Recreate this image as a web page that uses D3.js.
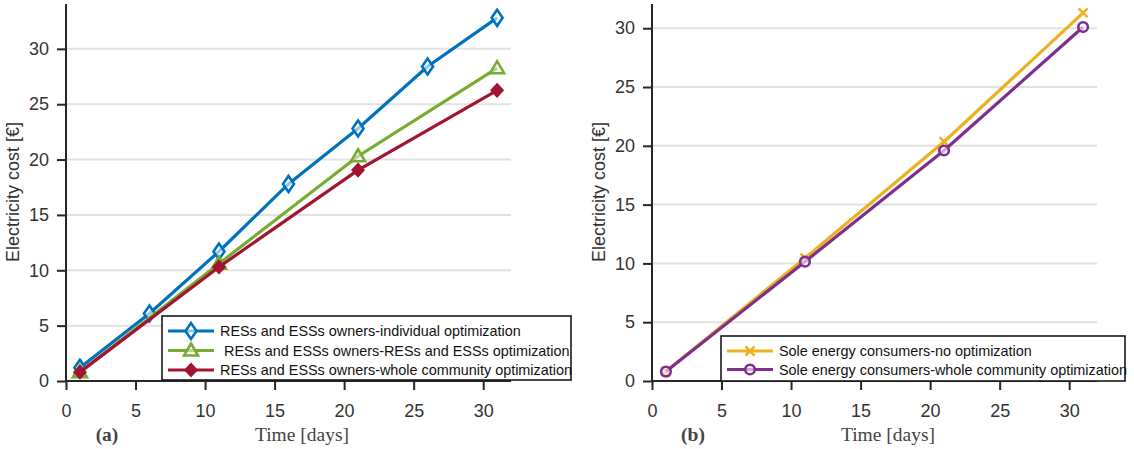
<!DOCTYPE html>
<html><head><meta charset="utf-8">
<script src="https://cdn.jsdelivr.net/npm/d3@7"></script>
<style>body{margin:0;background:#fff}svg{display:block}</style>
</head><body>
<svg id="c" width="1134" height="449"></svg>
<script>
// ---- data ----
const daysA = [1, 6, 11, 16, 21, 26, 31];
const daysA4 = [1, 11, 21, 31];
const blueIndividual = [1.2, 6.1, 11.7, 17.8, 22.8, 28.4, 32.8];
const greenResEss = [0.8, 10.6, 20.3, 28.25];
const redWhole = [0.8, 10.3, 19.05, 26.25];
const daysB = [1, 11, 21, 31];
const yellowNoOpt = [0.8, 10.45, 20.35, 31.3];
const purpleWhole = [0.8, 10.15, 19.6, 30.1];
const xTicks = [0, 5, 10, 15, 20, 25, 30];
const yTicks = [0, 5, 10, 15, 20, 25, 30];
const legendA = ["RESs and ESSs owners-individual optimization", " RESs and ESSs owners-RESs and ESSs optimization", "RESs and ESSs owners-whole community optimization"];
const legendB = ["Sole energy consumers-no optimization", "Sole energy consumers-whole community optimization"];

const svg = d3.select("#c");
const sans = "'Liberation Sans', Arial, sans-serif";
const serif = "'Liberation Serif', 'DejaVu Serif', serif";

function panel(cfg) {
  const x = d3.scaleLinear().domain([0, 32]).range([cfg.left, cfg.left + 445]);
  const y = d3.scaleLinear().domain([0, cfg.ymax]).range([381, 4]);
  const g = svg.append("g");
  // grid
  g.selectAll("line.grid").data(yTicks.filter(d => d > 0)).enter().append("line")
    .attr("x1", x(0)).attr("x2", x(32)).attr("y1", d => y(d)).attr("y2", d => y(d))
    .attr("stroke", "#e2e2e2").attr("stroke-width", 2);
  // axes
  const xa = g.append("g").attr("transform", `translate(0,${y(0)})`)
    .call(d3.axisBottom(x).tickValues(xTicks).tickSize(9).tickPadding(14).tickSizeOuter(0));
  const ya = g.append("g").attr("transform", `translate(${x(0)},0)`)
    .call(d3.axisLeft(y).tickValues(yTicks).tickSize(9).tickPadding(8).tickSizeOuter(0));
  [xa, ya].forEach(a => {
    a.select(".domain").attr("stroke", "#262626").attr("stroke-width", 2);
    a.selectAll(".tick line").attr("stroke", "#262626").attr("stroke-width", 2);
    a.selectAll(".tick text").attr("fill", "#333").attr("font-size", 18).attr("font-family", sans);
  });
  xa.select(".domain").attr("d", `M${x(0)},0H${x(32)}`);
  ya.select(".domain").attr("d", `M0,${y(0)}V4`);
  // y label
  g.append("text").attr("transform", `translate(${cfg.left - 47},192) rotate(-90)`)
    .attr("text-anchor", "middle").attr("font-family", sans).attr("font-size", 18).attr("fill", "#333")
    .text("Electricity cost [€]");
  g.append("text").attr("x", cfg.timeX).attr("y", 441).attr("text-anchor", "middle")
    .attr("font-family", serif).attr("font-size", 19.5).attr("fill", "#444").text("Time [days]");
  g.append("text").attr("x", cfg.labX).attr("y", 441).attr("text-anchor", "middle")
    .attr("font-family", serif).attr("font-size", 19.5).attr("font-weight", "bold").attr("fill", "#444").text(cfg.lab);
  // series
  const line = d3.line().x(d => x(d[0])).y(d => y(d[1]));
  cfg.series.forEach(s => {
    const pts = s.xs.map((d, i) => [d, s.ys[i]]);
    g.append("path").attr("d", line(pts)).attr("fill", "none").attr("stroke", s.color).attr("stroke-width", 3.2);
    pts.forEach(p => drawMarker(g, s.marker, x(p[0]), y(p[1]), s.color));
  });
  // legend
  const lg = cfg.legend;
  g.append("rect").attr("x", lg.x).attr("y", lg.y).attr("width", lg.w).attr("height", lg.h)
    .attr("fill", "#fff").attr("stroke", "#1a1a1a").attr("stroke-width", 1.6);
  cfg.series.forEach((s, i) => {
    const ry = lg.y + lg.first + i * lg.step;
    g.append("line").attr("x1", lg.x + 6).attr("x2", lg.x + 52).attr("y1", ry).attr("y2", ry)
      .attr("stroke", s.color).attr("stroke-width", 3.2);
    drawMarker(g, s.marker, lg.x + 29, ry, s.color);
    g.append("text").attr("x", lg.x + 58).attr("y", ry).attr("dy", "0.35em").attr("xml:space", "preserve")
      .style("white-space", "pre")
      .attr("font-family", sans).attr("font-size", 14.4).attr("fill", "#111").text(s.name);
  });
}

function drawMarker(g, type, cx, cy, color) {
  if (type === "diamondOpen") {
    g.append("path").attr("d", `M${cx},${cy-8}L${cx+5.5},${cy}L${cx},${cy+8}L${cx-5.5},${cy}Z`)
      .attr("fill", "#fff").attr("fill-opacity", 0.6).attr("stroke", color).attr("stroke-width", 2.6);
  } else if (type === "triangle") {
    g.append("path").attr("d", `M${cx},${cy-7}L${cx+7},${cy+5}L${cx-7},${cy+5}Z`)
      .attr("fill", "#fff").attr("fill-opacity", 0.5).attr("stroke", color).attr("stroke-width", 2.6);
  } else if (type === "diamondFill") {
    g.append("path").attr("d", `M${cx},${cy-6.5}L${cx+6},${cy}L${cx},${cy+6.5}L${cx-6},${cy}Z`)
      .attr("fill", color).attr("stroke", color).attr("stroke-width", 1.5);
  } else if (type === "cross") {
    g.append("path").attr("d", `M${cx-4.5},${cy-4.5}L${cx+4.5},${cy+4.5}M${cx+4.5},${cy-4.5}L${cx-4.5},${cy+4.5}`)
      .attr("stroke", color).attr("stroke-width", 2.6);
  } else if (type === "circle") {
    g.append("circle").attr("cx", cx).attr("cy", cy).attr("r", 4.8)
      .attr("fill", "#fff").attr("fill-opacity", 0.6).attr("stroke", color).attr("stroke-width", 2.6);
  }
}

panel({
  left: 66, ymax: 34.05, timeX: 302, labX: 107, lab: "(a)",
  series: [
    {name: legendA[0], xs: daysA, ys: blueIndividual, color: "#0072BD", marker: "diamondOpen"},
    {name: legendA[1], xs: daysA4, ys: greenResEss, color: "#77AC30", marker: "triangle"},
    {name: legendA[2], xs: daysA4, ys: redWhole, color: "#A2142F", marker: "diamondFill"}
  ],
  legend: {x: 162, y: 316, w: 409, h: 64, first: 15, step: 19.5}
});
panel({
  left: 652, ymax: 32.06, timeX: 888, labX: 693, lab: "(b)",
  series: [
    {name: legendB[0], xs: daysB, ys: yellowNoOpt, color: "#EDB120", marker: "cross"},
    {name: legendB[1], xs: daysB, ys: purpleWhole, color: "#7E2F8E", marker: "circle"}
  ],
  legend: {x: 721, y: 336, w: 404, h: 45, first: 15, step: 18.5}
});
</script>
</body></html>
